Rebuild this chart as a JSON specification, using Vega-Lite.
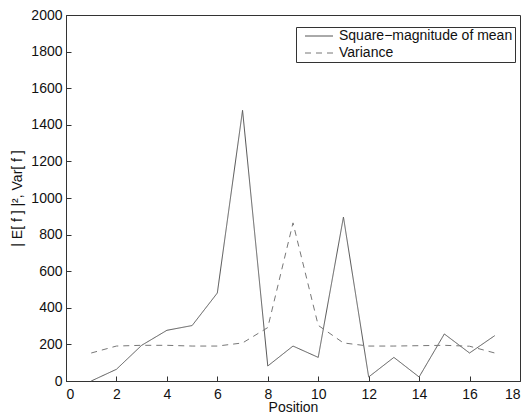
{
  "$schema": "https://vega.github.io/schema/vega-lite/v6.json",
  "width": 454,
  "height": 366,
  "autosize": {"type": "none"},
  "padding": {"left": 66, "top": 15, "right": 8, "bottom": 39},
  "background": "white",
  "config": {
    "font": "Liberation Sans",
    "view": {"stroke": "#333333", "strokeWidth": 1},
    "axis": {
      "grid": false,
      "domainColor": "#333333",
      "tickColor": "#333333",
      "tickSize": -5,
      "format": "d",
      "labelFont": "Liberation Sans",
      "labelFontSize": 14,
      "labelColor": "#111111",
      "titleFont": "Liberation Sans",
      "titleFontSize": 14,
      "titleFontWeight": "normal",
      "titleColor": "#111111"
    },
    "legend": {
      "title": null,
      "orient": "none",
      "legendX": 230,
      "legendY": 12,
      "strokeColor": "#333333",
      "fillColor": "white",
      "padding": 2,
      "symbolType": "M-1,0H13",
      "symbolSize": 16,
      "symbolStrokeWidth": 1,
      "symbolOffset": 2,
      "labelFont": "Liberation Sans",
      "labelFontSize": 14,
      "labelColor": "#111111",
      "labelOffset": 25,
      "labelLimit": 0,
      "rowPadding": 3,
      "cornerRadius": 0
    }
  },
  "data": {
    "values": [
      {"position": 1, "value": 0, "series": "Square−magnitude of mean"},
      {"position": 2, "value": 64, "series": "Square−magnitude of mean"},
      {"position": 3, "value": 195, "series": "Square−magnitude of mean"},
      {"position": 4, "value": 277, "series": "Square−magnitude of mean"},
      {"position": 5, "value": 303, "series": "Square−magnitude of mean"},
      {"position": 6, "value": 481, "series": "Square−magnitude of mean"},
      {"position": 7, "value": 1479, "series": "Square−magnitude of mean"},
      {"position": 8, "value": 82, "series": "Square−magnitude of mean"},
      {"position": 9, "value": 191, "series": "Square−magnitude of mean"},
      {"position": 10, "value": 129, "series": "Square−magnitude of mean"},
      {"position": 11, "value": 896, "series": "Square−magnitude of mean"},
      {"position": 12, "value": 22, "series": "Square−magnitude of mean"},
      {"position": 13, "value": 129, "series": "Square−magnitude of mean"},
      {"position": 14, "value": 22, "series": "Square−magnitude of mean"},
      {"position": 15, "value": 257, "series": "Square−magnitude of mean"},
      {"position": 16, "value": 153, "series": "Square−magnitude of mean"},
      {"position": 17, "value": 248, "series": "Square−magnitude of mean"},
      {"position": 1, "value": 153, "series": "Variance"},
      {"position": 2, "value": 191, "series": "Variance"},
      {"position": 3, "value": 195, "series": "Variance"},
      {"position": 4, "value": 195, "series": "Variance"},
      {"position": 5, "value": 191, "series": "Variance"},
      {"position": 6, "value": 191, "series": "Variance"},
      {"position": 7, "value": 208, "series": "Variance"},
      {"position": 8, "value": 292, "series": "Variance"},
      {"position": 9, "value": 864, "series": "Variance"},
      {"position": 10, "value": 304, "series": "Variance"},
      {"position": 11, "value": 208, "series": "Variance"},
      {"position": 12, "value": 191, "series": "Variance"},
      {"position": 13, "value": 191, "series": "Variance"},
      {"position": 14, "value": 193, "series": "Variance"},
      {"position": 15, "value": 195, "series": "Variance"},
      {"position": 16, "value": 190, "series": "Variance"},
      {"position": 17, "value": 153, "series": "Variance"}
    ]
  },
  "mark": {"type": "line", "strokeWidth": 1},
  "encoding": {
    "x": {
      "field": "position",
      "type": "quantitative",
      "title": "Position",
      "scale": {"domain": [0, 18], "nice": false, "zero": false},
      "axis": {"values": [0, 2, 4, 6, 8, 10, 12, 14, 16, 18], "labelPadding": 11, "titlePadding": -1}
    },
    "y": {
      "field": "value",
      "type": "quantitative",
      "title": "| E[ f ] |², Var[ f ]",
      "scale": {"domain": [0, 2000], "nice": false},
      "axis": {"values": [0, 200, 400, 600, 800, 1000, 1200, 1400, 1600, 1800, 2000], "labelPadding": 9, "titlePadding": 6}
    },
    "color": {
      "field": "series",
      "type": "nominal",
      "scale": {"domain": ["Square−magnitude of mean", "Variance"], "range": ["#555555", "#777777"]}
    },
    "strokeDash": {
      "field": "series",
      "type": "nominal",
      "scale": {"domain": ["Square−magnitude of mean", "Variance"], "range": [[1, 0], [6, 5]]}
    }
  }
}
